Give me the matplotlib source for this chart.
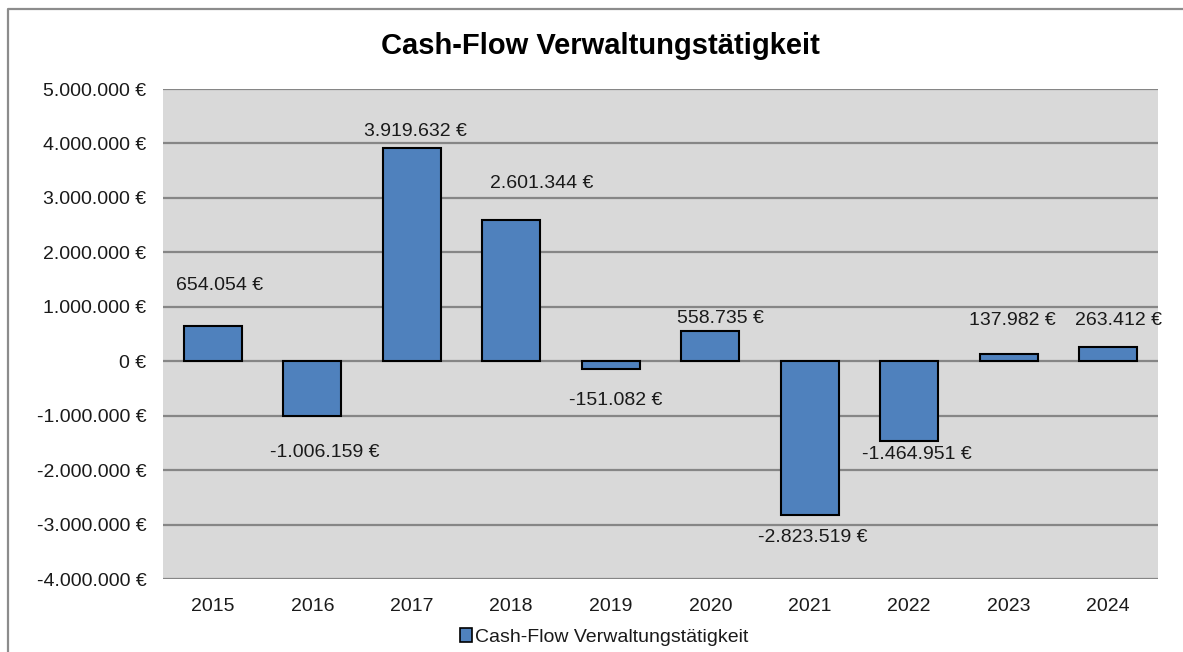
import matplotlib.pyplot as plt
from matplotlib.patches import Patch
from matplotlib.lines import Line2D
from matplotlib.ticker import FuncFormatter

# data
years = ['2015', '2016', '2017', '2018', '2019', '2020', '2021', '2022', '2023', '2024']
cash_flow = [654054, -1006159, 3919632, 2601344, -151082, 558735, -2823519, -1464951, 137982, 263412]
title = 'Cash-Flow Verwaltungstätigkeit'

# label offsets (pixels) relative to bar end, as placed in the original chart
lbl_dx = [7, 12, 4, 30, 5, 10, 3, 8, 4, 10]
lbl_dy = [40, -36, 16, 36, -31, 12, -23, -14, 33, 26]


def euro(v):
    s = '{:,.0f}'.format(abs(v)).replace(',', '.')
    return ('-' if v < 0 else '') + s + ' €'


plt.rcParams['font.family'] = ['Liberation Sans', 'DejaVu Sans']
txt_col = '#1a1a1a'

fig = plt.figure(figsize=(11.83, 6.52), dpi=100)
fig.set_facecolor('white')
ax = fig.add_axes([163/1183, 73/652, 995/1183, 490/652])
ax.set_facecolor('#d9d9d9')

x = list(range(len(years)))
ax.bar(x, cash_flow, width=0.58, color='#4f81bd', edgecolor='black', linewidth=1.5, zorder=3)

# axes
ax.set_xlim(-0.5, len(years) - 0.5)
ax.set_ylim(-4000000, 5000000)
ax.set_yticks(range(-4000000, 5000001, 1000000))
ax.yaxis.set_major_formatter(FuncFormatter(lambda v, p: euro(v)))
ax.set_xticks(x)
ax.set_xticklabels(years)
ax.tick_params(axis='both', length=0, labelsize=14, colors=txt_col)
ax.tick_params(axis='y', pad=12)
ax.tick_params(axis='x', pad=14)
ax.grid(axis='y', color='#868686', linewidth=1.6, zorder=1)
ax.set_axisbelow(True)
for s in ax.spines.values():
    s.set_visible(False)

# data labels
for i, v in enumerate(cash_flow):
    ax.annotate(euro(v), (i, v), xytext=(lbl_dx[i], lbl_dy[i]), textcoords='offset pixels',
                ha='center', va='center', fontsize=14, color=txt_col, zorder=4)

fig.text(600/1183, 1 - 46/652, title, ha='center', va='center', fontsize=21,
         fontweight='bold', color='black')

# legend
handle = Patch(facecolor='#4f81bd', edgecolor='black', linewidth=1.2)
fig.legend([handle], [title], loc='center', bbox_to_anchor=(604/1183, 1 - 637/652),
           frameon=False, fontsize=14, handlelength=0.6, handleheight=0.7,
           handletextpad=0.15, labelcolor=txt_col)

# outer chart border (right and bottom edges fall outside the image)
fig.add_artist(Line2D([8/1183, 8/1183, 1.0], [0.0, 1 - 9/652, 1 - 9/652],
                      transform=fig.transFigure, color='#8c8c8c', linewidth=1.6))

fig.savefig('out.png', dpi=100, facecolor=fig.get_facecolor())
